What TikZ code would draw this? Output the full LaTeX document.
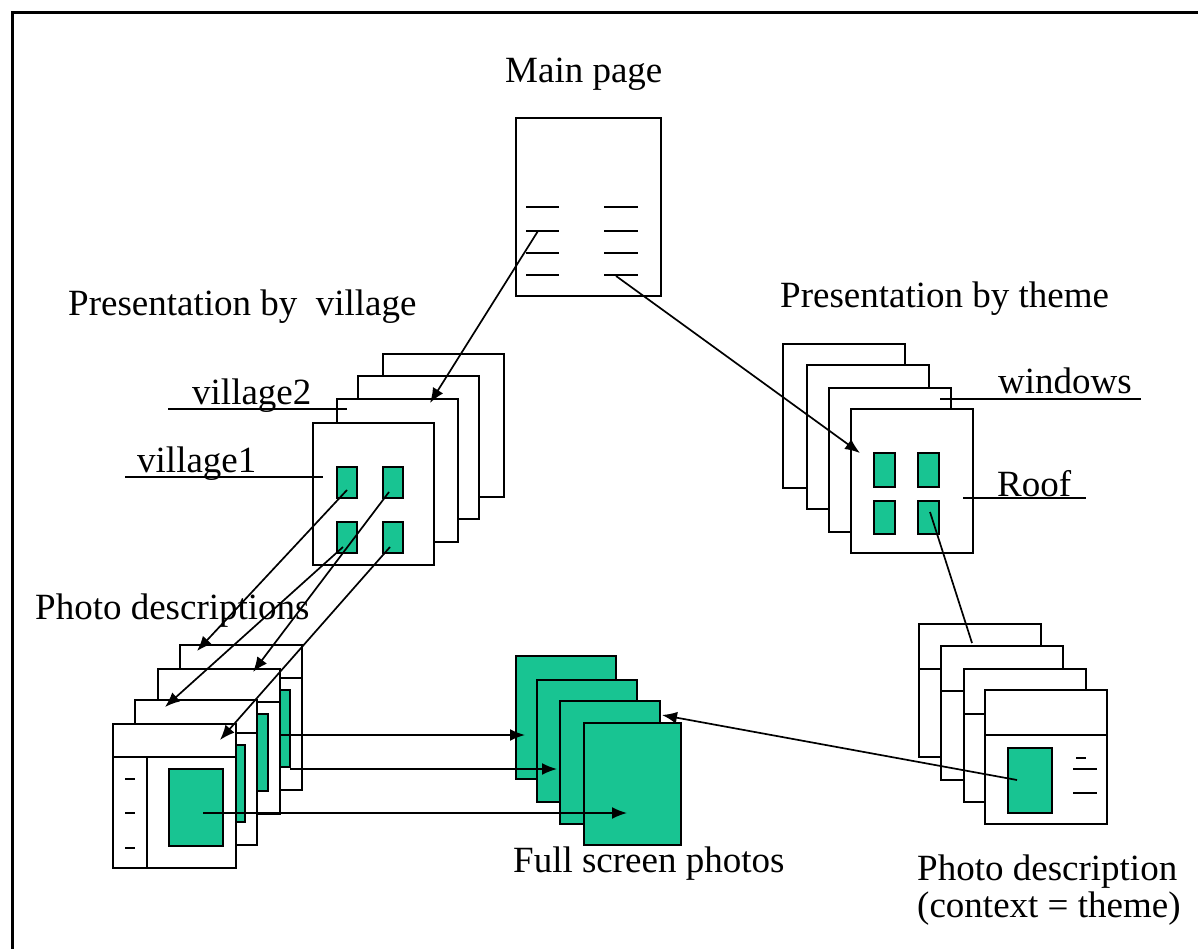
\documentclass[tikz,border=0pt]{standalone}
\usepackage{fontspec}
\setmainfont{Liberation Serif}
\usetikzlibrary{arrows.meta}
\definecolor{photogreen}{RGB}{24,196,146}

\begin{document}
\begin{tikzpicture}[x=1pt, y=-1pt,
  page/.style={draw, fill=white, line width=2pt, inner sep=0pt, outer sep=0pt, anchor=north west},
  photo/.style={draw, fill=photogreen, line width=2pt, inner sep=0pt, outer sep=0pt, anchor=north west},
  link/.style={line width=1.7pt, -{Latex[length=15pt,width=12pt]}},
  tag/.style={line width=2pt},
  lbl/.style={font=\fontsize{37}{41}\selectfont, inner sep=0pt, anchor=base west}]

\useasboundingbox (0,0) rectangle (1198,949);

% Frame of the screenshot
\draw[line width=3pt] (12,949) -- (12,13) -- (1198,13);

% Main page
\node[lbl] (maintitle) at (505,83) {Main page};
\node[page, minimum width=145pt, minimum height=178pt] (main) at (516,118) {};
\draw[tag] (526,207) -- (559,207);
\draw[tag] (526,231) -- (559,231);
\draw[tag] (526,253) -- (559,253);
\draw[tag] (526,275) -- (559,275);
\draw[tag] (604,207) -- (638,207);
\draw[tag] (604,231) -- (638,231);
\draw[tag] (604,253) -- (638,253);
\draw[tag] (604,275) -- (638,275);
\coordinate (mainL) at (538,231);
\coordinate (mainR) at (616,276);

% Presentation by village
\node[lbl] (villtitle) at (68,316) {Presentation by\ \ village};
\node[page, minimum width=121pt, minimum height=143pt] (v4) at (383,354) {};
\node[page, minimum width=121pt, minimum height=143pt] (v3) at (358,376) {};
\node[page, minimum width=121pt, minimum height=143pt] (v2) at (337,399) {};
\coordinate (v2tag) at (168,409);
\coordinate (v2tagend) at (347,409);
\draw[tag] (v2tag) -- (v2tagend);
\node[lbl] (v2name) at (192,404) {village2};
\node[page, minimum width=121pt, minimum height=142pt] (v1) at (313,423) {};
\coordinate (v1tag) at (125,477);
\coordinate (v1tagend) at (323,477);
\draw[tag] (v1tag) -- (v1tagend);
\node[lbl] (v1name) at (137,472) {village1};
\node[photo, minimum width=20pt, minimum height=31pt] (vg1) at (337,467) {};
\node[photo, minimum width=20pt, minimum height=31pt] (vg2) at (383,467) {};
\node[photo, minimum width=20pt, minimum height=31pt] (vg3) at (337,522) {};
\node[photo, minimum width=20pt, minimum height=31pt] (vg4) at (383,522) {};
\coordinate (v2in) at (430,403);

% Presentation by theme
\node[lbl] (themetitle) at (780,307) {Presentation by theme};
\node[page, minimum width=122pt, minimum height=144pt] (t4) at (783,344) {};
\node[page, minimum width=122pt, minimum height=144pt] (t3) at (807,365) {};
\node[page, minimum width=122pt, minimum height=144pt] (t2) at (829,388) {};
\coordinate (t2tag) at (940,399);
\coordinate (t2tagend) at (1141,399);
\draw[tag] (t2tag) -- (t2tagend);
\node[lbl] (t2name) at (998,393) {windows};
\node[page, minimum width=122pt, minimum height=144pt] (t1) at (851,409) {};
\coordinate (t1tag) at (963,498);
\coordinate (t1tagend) at (1086,498);
\draw[tag] (t1tag) -- (t1tagend);
\node[lbl] (t1name) at (997,496) {Roof};
\node[photo, minimum width=21pt, minimum height=34pt] (tg1) at (874,453) {};
\node[photo, minimum width=21pt, minimum height=34pt] (tg2) at (918,453) {};
\node[photo, minimum width=21pt, minimum height=33pt] (tg3) at (874,501) {};
\node[photo, minimum width=21pt, minimum height=33pt] (tg4) at (918,501) {};
\coordinate (t1in) at (860,453);

% Photo descriptions
\node[lbl] (desctitle) at (35,619) {Photo descriptions};
\node[page, minimum width=122pt, minimum height=145pt] (d4) at (180,645) {};
\draw[tag] ([yshift=-33pt]d4.north west) -- ([yshift=-33pt]d4.north east);
\draw[tag] ([xshift=34pt,yshift=-33pt]d4.north west) -- ([xshift=34pt]d4.south west);
\node[photo, minimum width=54pt, minimum height=77pt] (dg4) at ([xshift=56pt,yshift=-45pt]d4.north west) {};
\node[page, minimum width=122pt, minimum height=145pt] (d3) at (158,669) {};
\draw[tag] ([yshift=-33pt]d3.north west) -- ([yshift=-33pt]d3.north east);
\draw[tag] ([xshift=34pt,yshift=-33pt]d3.north west) -- ([xshift=34pt]d3.south west);
\node[photo, minimum width=54pt, minimum height=77pt] (dg3) at ([xshift=56pt,yshift=-45pt]d3.north west) {};
\node[page, minimum width=122pt, minimum height=145pt] (d2) at (135,700) {};
\draw[tag] ([yshift=-33pt]d2.north west) -- ([yshift=-33pt]d2.north east);
\draw[tag] ([xshift=34pt,yshift=-33pt]d2.north west) -- ([xshift=34pt]d2.south west);
\node[photo, minimum width=54pt, minimum height=77pt] (dg2) at ([xshift=56pt,yshift=-45pt]d2.north west) {};
\node[page, minimum width=123pt, minimum height=144pt] (d1) at (113,724) {};
\draw[tag] ([yshift=-33pt]d1.north west) -- ([yshift=-33pt]d1.north east);
\draw[tag] ([xshift=34pt,yshift=-33pt]d1.north west) -- ([xshift=34pt]d1.south west);
\node[photo, minimum width=54pt, minimum height=77pt] (dg1) at ([xshift=56pt,yshift=-45pt]d1.north west) {};
\draw[tag] (125,779) -- (135,779);
\draw[tag] (125,813) -- (135,813);
\draw[tag] (125,848) -- (135,848);
\coordinate (d4in) at (197,651);
\coordinate (d3in) at (253,672);
\coordinate (d2in) at (165,707);
\coordinate (d1in) at (220,740);
\coordinate (d3out) at (281,735);
\coordinate (d4out) at (290,769);
\coordinate (d1out) at (203,813);

% Full screen photos
\node[photo, minimum width=100pt, minimum height=123pt] (f1) at (516,656) {};
\node[photo, minimum width=100pt, minimum height=122pt] (f2) at (537,680) {};
\node[photo, minimum width=100pt, minimum height=123pt] (f3) at (560,701) {};
\node[photo, minimum width=97pt, minimum height=122pt] (f4) at (584,723) {};
\node[lbl] (fulltitle) at (513,872) {Full screen photos};
\coordinate (f1in) at (525,735);
\coordinate (f2in) at (557,769);
\coordinate (f4in) at (627,813);
\coordinate (f3in) at (662,715);

% Photo description (context = theme)
\node[page, minimum width=122pt, minimum height=133pt] (r4) at (919,624) {};
\draw[tag] ([yshift=-45pt]r4.north west) -- ([yshift=-45pt]r4.north east);
\node[page, minimum width=122pt, minimum height=134pt] (r3) at (941,646) {};
\draw[tag] ([yshift=-45pt]r3.north west) -- ([yshift=-45pt]r3.north east);
\node[page, minimum width=122pt, minimum height=133pt] (r2) at (964,669) {};
\draw[tag] ([yshift=-45pt]r2.north west) -- ([yshift=-45pt]r2.north east);
\node[page, minimum width=122pt, minimum height=134pt] (r1) at (985,690) {};
\draw[tag] ([yshift=-45pt]r1.north west) -- ([yshift=-45pt]r1.north east);
\node[photo, minimum width=44pt, minimum height=65pt] (rg) at (1008,748) {};
\draw[tag] (1076,758) -- (1086,758);
\draw[tag] (1073,769) -- (1097,769);
\draw[tag] (1073,793) -- (1097,793);
\node[lbl] (rtitle) at (917,880) {Photo description};
\node[lbl] (rsub) at (917,917) {(context = theme)};
\coordinate (rgout) at (1017,780);
\coordinate (tgout) at (930,512);
\coordinate (r3in) at (972,643);

% Links
\draw[link] (mainL) -- (v2in);
\draw[link] (mainR) -- (t1in);
\draw[link] (347,490) -- (d4in);
\draw[link] (389,492) -- (d3in);
\draw[link] (343,547) -- (d2in);
\draw[link] (390,547) -- (d1in);
\draw[link] (d3out) -- (f1in);
\draw[link] (d4out) -- (f2in);
\draw[link] (d1out) -- (f4in);
\draw[link] (rgout) -- (f3in);
\draw[line width=1.7pt] (tgout) -- (r3in);

\end{tikzpicture}
\end{document}
